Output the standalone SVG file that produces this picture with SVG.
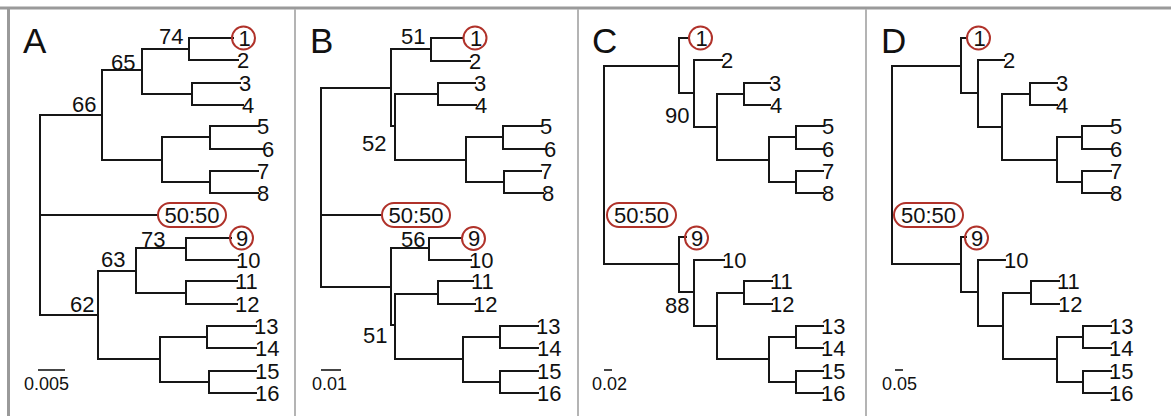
<svg xmlns="http://www.w3.org/2000/svg" width="1171" height="416" viewBox="0 0 1171 416">
  <style>
    .br { fill: none; stroke: #161616; stroke-width: 2; stroke-linecap: square; }
    .sc { fill: none; stroke: #161616; stroke-width: 1.6; }
    .frame { fill: none; stroke: #9a9a9a; stroke-width: 3; }
    .div { fill: none; stroke: #b4b4b4; stroke-width: 2; }
    .hl { fill: none; stroke: #b0322a; stroke-width: 2; }
    text { font-family: "Liberation Sans", Arial, sans-serif; fill: #111; }
    .lf { font-size: 22px; }
    .bs { font-size: 22px; }
    .mid { text-anchor: middle; }
    .sct { font-size: 18px; }
    .pl { font-size: 35px; }
  </style>
  <rect width="1171" height="416" fill="#fff"/>

  <!-- outer frame and panel dividers -->
  <g id="frame">
    <path class="frame" d="M0 8 H1171 M8.5 7 V416"/>
    <path class="div" d="M295 9 V416 M578 9 V416 M866 9 V416"/>
  </g>

  <!-- ===== Panel A ===== -->
  <g id="panel-a">
    <text id="a-title" class="pl" x="23" y="53">A</text>
    <g id="a-branches">
      <path class="br" d="M233 38 H189 V60 H238 M240 83 H192 V105 H243 M189 49 H142 V94 H192
        M258 126 H210 V149 H263 M258 171 H210 V193 H258 M210 137 H162 V182 H210
        M142 70 H102 V160 H162 M102 115 H40 V315 H98 M40 215 H158
        M231 238 H186 V260 H238 M237 281 H186 V304 H237 M186 248 H136 V293 H186
        M256 326 H207 V348 H256 M256 371 H209 V393 H256 M207 337 H160 V382 H209
        M136 271 H98 V359 H160"/>
    </g>
    <g id="a-leaf-1"><circle class="hl" cx="243.5" cy="38" r="11.5"/><text class="lf mid" x="244.5" y="46">1</text></g>
    <g id="a-leaf-2"><text class="lf" x="237" y="68">2</text></g>
    <g id="a-leaf-3"><text class="lf" x="239" y="91">3</text></g>
    <g id="a-leaf-4"><text class="lf" x="242" y="113">4</text></g>
    <g id="a-leaf-5"><text class="lf" x="257" y="134">5</text></g>
    <g id="a-leaf-6"><text class="lf" x="262" y="157">6</text></g>
    <g id="a-leaf-7"><text class="lf" x="257" y="179">7</text></g>
    <g id="a-leaf-8"><text class="lf" x="257" y="201">8</text></g>
    <g id="a-root-5050"><rect class="hl" x="158" y="203" width="68" height="24" rx="12"/><text class="lf mid" x="192" y="223">50:50</text></g>
    <g id="a-leaf-9"><circle class="hl" cx="241.5" cy="238" r="11.5"/><text class="lf mid" x="242" y="246">9</text></g>
    <g id="a-leaf-10"><text class="lf" x="236" y="268">10</text></g>
    <g id="a-leaf-11"><text class="lf" x="235" y="289">11</text></g>
    <g id="a-leaf-12"><text class="lf" x="235" y="312">12</text></g>
    <g id="a-leaf-13"><text class="lf" x="254" y="334">13</text></g>
    <g id="a-leaf-14"><text class="lf" x="255" y="356">14</text></g>
    <g id="a-leaf-15"><text class="lf" x="255" y="379">15</text></g>
    <g id="a-leaf-16"><text class="lf" x="255" y="401">16</text></g>
    <g id="a-support">
      <text class="bs" x="159" y="44">74</text>
      <text class="bs" x="111" y="70">65</text>
      <text class="bs" x="72" y="112">66</text>
      <text class="bs" x="141" y="247">73</text>
      <text class="bs" x="101" y="267">63</text>
      <text class="bs" x="70" y="312">62</text>
    </g>
    <g id="a-scale"><path class="sc" d="M38 370 H65"/><text class="sct" x="24" y="390">0.005</text></g>
  </g>

  <!-- ===== Panel B ===== -->
  <g id="panel-b">
    <text id="b-title" class="pl" x="310" y="53">B</text>
    <g id="b-branches">
      <path class="br" d="M463 38 H431 V61 H470 M431 49 H391 V126 H395 M475 83 H438 V105 H476
        M541 126 H503 V149 H545 M541 171 H504 V193 H543 M503 137 H466 V182 H504
        M438 94 H395 V160 H466 M391 88 H321 V287 H391 M321 215 H382
        M462 238 H429 V260 H471 M429 248 H391 V325 H395 M473 281 H438 V304 H475
        M538 326 H500 V348 H538 M538 371 H500 V393 H538 M500 337 H463 V382 H500
        M438 294 H395 V359 H463"/>
    </g>
    <g id="b-leaf-1"><circle class="hl" cx="475" cy="38" r="11.5"/><text class="lf mid" x="476" y="46">1</text></g>
    <g id="b-leaf-2"><text class="lf" x="469" y="69">2</text></g>
    <g id="b-leaf-3"><text class="lf" x="474" y="91">3</text></g>
    <g id="b-leaf-4"><text class="lf" x="475" y="113">4</text></g>
    <g id="b-leaf-5"><text class="lf" x="540" y="134">5</text></g>
    <g id="b-leaf-6"><text class="lf" x="544" y="157">6</text></g>
    <g id="b-leaf-7"><text class="lf" x="540" y="179">7</text></g>
    <g id="b-leaf-8"><text class="lf" x="542" y="201">8</text></g>
    <g id="b-root-5050"><rect class="hl" x="382" y="203" width="68" height="24" rx="12"/><text class="lf mid" x="416" y="223">50:50</text></g>
    <g id="b-leaf-9"><circle class="hl" cx="473.5" cy="238.5" r="11.5"/><text class="lf mid" x="474" y="246">9</text></g>
    <g id="b-leaf-10"><text class="lf" x="469" y="268">10</text></g>
    <g id="b-leaf-11"><text class="lf" x="471" y="289">11</text></g>
    <g id="b-leaf-12"><text class="lf" x="473" y="312">12</text></g>
    <g id="b-leaf-13"><text class="lf" x="536" y="334">13</text></g>
    <g id="b-leaf-14"><text class="lf" x="537" y="356">14</text></g>
    <g id="b-leaf-15"><text class="lf" x="537" y="379">15</text></g>
    <g id="b-leaf-16"><text class="lf" x="537" y="401">16</text></g>
    <g id="b-support">
      <text class="bs" x="401" y="44">51</text>
      <text class="bs" x="362" y="151">52</text>
      <text class="bs" x="401" y="247">56</text>
      <text class="bs" x="363" y="343">51</text>
    </g>
    <g id="b-scale"><path class="sc" d="M321 370 H341"/><text class="sct" x="312" y="390">0.01</text></g>
  </g>

  <!-- ===== Panel C ===== -->
  <g id="panel-c">
    <text id="c-title" class="pl" x="592" y="53">C</text>
    <g id="c-branches">
      <path class="br" d="M679 66 H604 V264 H679 M689 38 H679 V93 H694 M722 60 H694 V127 H717
        M770 83 H744 V105 H770 M744 94 H717 V160 H769
        M823 126 H796 V149 H823 M823 171 H796 V193 H823 M796 137 H769 V182 H796
        M686 237 H679 V292 H694 M724 260 H694 V326 H717
        M772 281 H744 V304 H772 M744 293 H717 V359 H769
        M823 326 H796 V348 H823 M823 371 H796 V393 H823 M796 337 H769 V382 H796"/>
    </g>
    <g id="c-leaf-1"><circle class="hl" cx="700.5" cy="38" r="11.5"/><text class="lf mid" x="701.5" y="46">1</text></g>
    <g id="c-leaf-2"><text class="lf" x="721" y="68">2</text></g>
    <g id="c-leaf-3"><text class="lf" x="769" y="91">3</text></g>
    <g id="c-leaf-4"><text class="lf" x="770" y="113">4</text></g>
    <g id="c-leaf-5"><text class="lf" x="822" y="134">5</text></g>
    <g id="c-leaf-6"><text class="lf" x="822" y="157">6</text></g>
    <g id="c-leaf-7"><text class="lf" x="822" y="179">7</text></g>
    <g id="c-leaf-8"><text class="lf" x="822" y="201">8</text></g>
    <g id="c-root-5050"><rect class="hl" x="607" y="203" width="69" height="24" rx="12"/><text class="lf mid" x="641.5" y="223">50:50</text></g>
    <g id="c-leaf-9"><circle class="hl" cx="696.5" cy="238" r="11.5"/><text class="lf mid" x="697" y="246">9</text></g>
    <g id="c-leaf-10"><text class="lf" x="722" y="268">10</text></g>
    <g id="c-leaf-11"><text class="lf" x="770" y="289">11</text></g>
    <g id="c-leaf-12"><text class="lf" x="770" y="312">12</text></g>
    <g id="c-leaf-13"><text class="lf" x="821" y="334">13</text></g>
    <g id="c-leaf-14"><text class="lf" x="821" y="356">14</text></g>
    <g id="c-leaf-15"><text class="lf" x="821" y="379">15</text></g>
    <g id="c-leaf-16"><text class="lf" x="821" y="401">16</text></g>
    <g id="c-support">
      <text class="bs" x="665" y="123">90</text>
      <text class="bs" x="665" y="313">88</text>
    </g>
    <g id="c-scale"><path class="sc" d="M604 370 H612"/><text class="sct" x="592" y="390">0.02</text></g>
  </g>

  <!-- ===== Panel D ===== -->
  <g id="panel-d">
    <text id="d-title" class="pl" x="881" y="53">D</text>
    <g id="d-branches">
      <path class="br" d="M961 66 H892 V264 H961 M967 38 H961 V93 H978 M1004 60 H978 V127 H1002
        M1057 83 H1030 V105 H1057 M1030 94 H1002 V160 H1057
        M1111 126 H1082 V149 H1111 M1111 171 H1082 V193 H1111 M1082 137 H1057 V182 H1082
        M966 237 H961 V292 H978 M1005 260 H978 V326 H1003
        M1059 281 H1031 V304 H1059 M1031 293 H1003 V359 H1057
        M1111 326 H1083 V348 H1111 M1111 371 H1083 V393 H1111 M1083 337 H1057 V382 H1083"/>
    </g>
    <g id="d-leaf-1"><circle class="hl" cx="978.5" cy="38" r="11.5"/><text class="lf mid" x="979.5" y="46">1</text></g>
    <g id="d-leaf-2"><text class="lf" x="1003" y="68">2</text></g>
    <g id="d-leaf-3"><text class="lf" x="1056" y="91">3</text></g>
    <g id="d-leaf-4"><text class="lf" x="1056" y="113">4</text></g>
    <g id="d-leaf-5"><text class="lf" x="1110" y="134">5</text></g>
    <g id="d-leaf-6"><text class="lf" x="1110" y="157">6</text></g>
    <g id="d-leaf-7"><text class="lf" x="1110" y="179">7</text></g>
    <g id="d-leaf-8"><text class="lf" x="1110" y="201">8</text></g>
    <g id="d-root-5050"><rect class="hl" x="894" y="203" width="69" height="24" rx="12"/><text class="lf mid" x="928.5" y="223">50:50</text></g>
    <g id="d-leaf-9"><circle class="hl" cx="976.5" cy="238" r="11.5"/><text class="lf mid" x="977" y="246">9</text></g>
    <g id="d-leaf-10"><text class="lf" x="1004" y="268">10</text></g>
    <g id="d-leaf-11"><text class="lf" x="1057" y="289">11</text></g>
    <g id="d-leaf-12"><text class="lf" x="1058" y="312">12</text></g>
    <g id="d-leaf-13"><text class="lf" x="1109" y="334">13</text></g>
    <g id="d-leaf-14"><text class="lf" x="1109" y="356">14</text></g>
    <g id="d-leaf-15"><text class="lf" x="1109" y="379">15</text></g>
    <g id="d-leaf-16"><text class="lf" x="1109" y="401">16</text></g>
    <g id="d-scale"><path class="sc" d="M895 370 H903"/><text class="sct" x="882" y="390">0.05</text></g>
  </g>
</svg>
